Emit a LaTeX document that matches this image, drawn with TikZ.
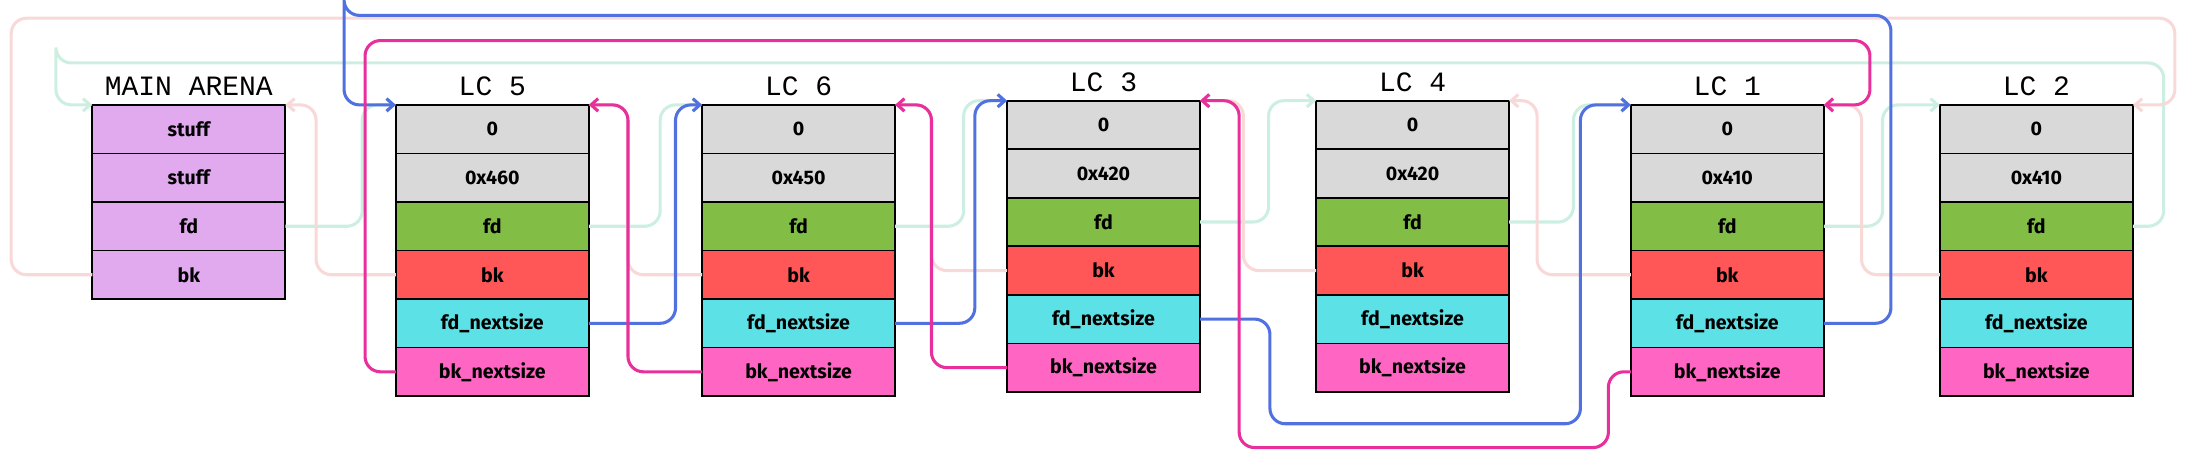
\documentclass[tikz,border=0pt]{standalone}
\usepackage{fontspec}
\usetikzlibrary{arrows.meta,positioning}
\newfontfamily\cellfont{Fira Sans}
\newfontfamily\titlefont{Liberation Mono}
\definecolor{cgray}{HTML}{D9D9D9}
\definecolor{cgreen}{HTML}{82BE45}
\definecolor{cred}{HTML}{FF5757}
\definecolor{ccyan}{HTML}{5CE1E6}
\definecolor{cpink}{HTML}{FF66C4}
\definecolor{cpurple}{HTML}{E2AAEE}
\definecolor{lblue}{HTML}{5271E0}
\definecolor{lmag}{HTML}{E8309C}
\definecolor{fgreen}{HTML}{CDEFE2}
\definecolor{fpink}{HTML}{F9D8D8}

\tikzset{
  cell/.style={draw=black,line width=1.2pt,minimum width=138pt,minimum height=34.7pt,
    inner sep=0pt,outer sep=0pt,font=\cellfont\bfseries\fontsize{14}{14}\selectfont},
  title/.style={font=\titlefont\fontsize{20}{20}\selectfont},
  link/.style={line width=2.2pt,rounded corners=11pt,-{Straight Barb[length=5pt,width=9pt]}},
  fdnext/.style={link,lblue},
  bknext/.style={link,lmag},
  fdlink/.style={link,fgreen},
  bklink/.style={link,fpink},
}

% one large chunk: name, x, top, size, title
\newcommand\chunk[5]{%
  \node[cell,fill=cgray,anchor=north west] (#1-1) at (#2,#3) {0};
  \node[cell,fill=cgray,below=0pt of #1-1] (#1-2) {#4};
  \node[cell,fill=cgreen,below=0pt of #1-2] (#1-3) {fd};
  \node[cell,fill=cred,below=0pt of #1-3] (#1-4) {bk};
  \node[cell,fill=ccyan,below=0pt of #1-4] (#1-5) {fd\_nextsize};
  \node[cell,fill=cpink,below=0pt of #1-5] (#1-6) {bk\_nextsize};
  \node[title,above=3pt of #1-1] (#1-t) {#5};
}

\begin{document}
\begin{tikzpicture}[x=1pt,y=-1pt]
  \useasboundingbox (0,0) rectangle (1568,327);

  % main arena
  \node[cell,fill=cpurple,anchor=north west] (ma-1) at (66,75) {stuff};
  \node[cell,fill=cpurple,below=0pt of ma-1] (ma-2) {stuff};
  \node[cell,fill=cpurple,below=0pt of ma-2] (ma-3) {fd};
  \node[cell,fill=cpurple,below=0pt of ma-3] (ma-4) {bk};
  \node[title,above=3pt of ma-1] (ma-t) {MAIN ARENA};

  \chunk{lc5}{283}{75}{0x460}{LC 5}
  \chunk{lc6}{502}{75}{0x450}{LC 6}
  \chunk{lc3}{720}{72}{0x420}{LC 3}
  \chunk{lc4}{941}{72}{0x420}{LC 4}
  \chunk{lc1}{1166}{75}{0x410}{LC 1}
  \chunk{lc2}{1387}{75}{0x410}{LC 2}

  % lanes
  \coordinate (lane-bk) at (8,13);
  \coordinate (lane-fd) at (40,45);
  \coordinate (lane-fdn) at (246,11);
  \coordinate (lane-bkn) at (261,29);
  \coordinate (lane-low) at (908,303);

  % fd / bk chain
  \draw[fdlink] (ma-3.east) -| ([xshift=-24pt]lc5-1.north west) -- (lc5-1.north west);
  \draw[fdlink] (lc5-3.east) -| ([xshift=-30pt]lc6-1.north west) -- (lc6-1.north west);
  \draw[fdlink] (lc6-3.east) -| ([xshift=-31pt]lc3-1.north west) -- (lc3-1.north west);
  \draw[fdlink] (lc3-3.east) -| ([xshift=-34pt]lc4-1.north west) -- (lc4-1.north west);
  \draw[fdlink] (lc4-3.east) -| ([xshift=-41pt]lc1-1.north west) -- (lc1-1.north west);
  \draw[fdlink] (lc1-3.east) -| ([xshift=-41pt]lc2-1.north west) -- (lc2-1.north west);
  \draw[fdlink] (lc2-3.east) -| (1547,45) -| (lane-fd) |- (ma-1.north west);

  \draw[bklink] (ma-4.west) -| (lane-bk) -| (1555,75) -- (lc2-1.north east);
  \draw[bklink] (lc5-4.west) -| ([xshift=22pt]ma-1.north east) -- (ma-1.north east);
  \draw[bklink] (lc6-4.west) -| ([xshift=28pt]lc5-1.north east) -- (lc5-1.north east);
  \draw[bklink] (lc3-4.west) -| ([xshift=26pt]lc6-1.north east) -- (lc6-1.north east);
  \draw[bklink] (lc4-4.west) -| ([xshift=31pt]lc3-1.north east) -- (lc3-1.north east);
  \draw[bklink] (lc1-4.west) -| ([xshift=20pt]lc4-1.north east) -- (lc4-1.north east);
  \draw[bklink] (lc2-4.west) -| ([xshift=27pt]lc1-1.north east) -- (lc1-1.north east);

  % nextsize chain
  \draw[fdnext] (lc5-5.east) -| ([xshift=-19pt]lc6-1.north west) -- (lc6-1.north west);
  \draw[fdnext] (lc6-5.east) -| ([xshift=-23pt]lc3-1.north west) -- (lc3-1.north west);
  \draw[fdnext] (lc3-5.east) -| (lane-low) -| ([xshift=-36pt]lc1-1.north west) -- (lc1-1.north west);
  \draw[fdnext] (lc1-5.east) -| (1352,11) -| (lane-fdn) |- (lc5-1.north west);

  \draw[bknext] (lc5-6.west) -| (lane-bkn) -| (1337,75) -- (lc1-1.north east);
  \draw[bknext] (lc6-6.west) -| ([xshift=28pt]lc5-1.north east) -- (lc5-1.north east);
  \draw[bknext] (lc3-6.west) -| ([xshift=26pt]lc6-1.north east) -- (lc6-1.north east);
  \draw[bknext] (lc1-6.west) -| (1150,320) -| ([xshift=28pt]lc3-1.north east) -- (lc3-1.north east);
\end{tikzpicture}
\end{document}
